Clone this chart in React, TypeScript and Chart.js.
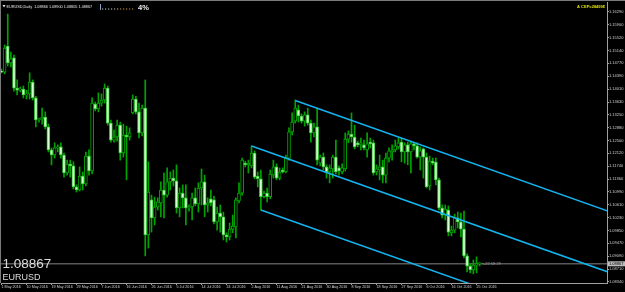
import React, { useEffect, useRef } from 'react';
import { Chart, registerables } from 'chart.js';

Chart.register(...registerables);

// ---- EURUSD Daily, bar 0 = 1 May 2016 (Sunday bars included) ----
const opens = [
  1.1454, 1.1451, 1.1528, 1.1478, 1.1493, 1.1404, 1.1398, 1.1401, 1.1384, 1.1387,
  1.1422, 1.1375, 1.1310, 1.1313, 1.1319, 1.1290, 1.1222, 1.1207, 1.1228, 1.1231,
  1.1207, 1.1154, 1.1180, 1.1175, 1.1113, 1.1104, 1.1145, 1.1122, 1.1204, 1.1160,
  1.1357, 1.1343, 1.1360, 1.1369, 1.1404, 1.1301, 1.1251, 1.1260, 1.1295, 1.1213,
  1.1266, 1.1260, 1.1331, 1.1372, 1.1334, 1.1272, 1.1345, 1.0972, 1.1075, 1.1022,
  1.1054, 1.1066, 1.1104, 1.1089, 1.1128, 1.1139, 1.1131, 1.1051, 1.1095, 1.1081,
  1.1051, 1.1054, 1.1081, 1.1063, 1.1110, 1.1128, 1.1060, 1.1078, 1.1075, 1.1010,
  1.1036, 1.1025, 1.0972, 1.0966, 1.0989, 1.0995, 1.1072, 1.1095, 1.1183, 1.1178,
  1.1175, 1.1213, 1.1145, 1.1137, 1.1084, 1.1095, 1.1084, 1.1148, 1.1172, 1.1139,
  1.1163, 1.1157, 1.1198, 1.1275, 1.1307, 1.1340, 1.1322, 1.1307, 1.1325, 1.1301,
  1.1272, 1.1290, 1.1183, 1.1201, 1.1172, 1.1157, 1.1166, 1.1201, 1.1169, 1.1157,
  1.1166, 1.1254, 1.1269, 1.1260, 1.1243, 1.1237, 1.1237, 1.1222, 1.1245, 1.1243,
  1.1157, 1.1163, 1.1172, 1.1148, 1.1198, 1.1216, 1.1222, 1.1231, 1.1245, 1.1216,
  1.1237, 1.1216, 1.1240, 1.1234, 1.1201, 1.1225, 1.1201, 1.1116, 1.1189, 1.1186,
  1.1134, 1.1051, 1.1030, 1.1045, 1.0978, 1.0986, 1.1022, 1.1010, 1.0989, 1.0910,
  1.0880, 1.0869, 1.0883, 1.08866,
];
const highs = [
  1.1460, 1.1531, 1.1622, 1.1510, 1.1501, 1.1428, 1.1407, 1.1410, 1.1398, 1.1449,
  1.1428, 1.1380, 1.1316, 1.1345, 1.1334, 1.1298, 1.1228, 1.1243, 1.1237, 1.1243,
  1.1213, 1.1192, 1.1192, 1.1187, 1.1119, 1.1172, 1.1157, 1.1216, 1.1222, 1.1375,
  1.1363, 1.1390, 1.1387, 1.1416, 1.1410, 1.1310, 1.1281, 1.1310, 1.1304, 1.1298,
  1.1292, 1.1287, 1.1384, 1.1380, 1.1360, 1.1354, 1.1428, 1.1187, 1.1089, 1.1083,
  1.1081, 1.1128, 1.1154, 1.1169, 1.1157, 1.1163, 1.1178, 1.1110, 1.1119, 1.1119,
  1.1060, 1.1095, 1.1110, 1.1125, 1.1166, 1.1148, 1.1081, 1.1104, 1.1086, 1.1054,
  1.1060, 1.1039, 1.0978, 1.1007, 1.1030, 1.1081, 1.1125, 1.1198, 1.1189, 1.1192,
  1.1234, 1.1219, 1.1157, 1.1163, 1.1101, 1.1110, 1.1163, 1.1192, 1.1181, 1.1169,
  1.1169, 1.1207, 1.1287, 1.1331, 1.1369, 1.1354, 1.1328, 1.1334, 1.1345, 1.1310,
  1.1301, 1.1345, 1.1207, 1.1213, 1.1178, 1.1178, 1.1207, 1.1251, 1.1175, 1.1181,
  1.1272, 1.1278, 1.1331, 1.1295, 1.1248, 1.1257, 1.1251, 1.1272, 1.1257, 1.1251,
  1.1178, 1.1207, 1.1192, 1.1213, 1.1228, 1.1237, 1.1251, 1.1257, 1.1257, 1.1243,
  1.1245, 1.1248, 1.1245, 1.1243, 1.1231, 1.1228, 1.1213, 1.1204, 1.1198, 1.1198,
  1.1139, 1.1060, 1.1060, 1.1057, 1.0998, 1.1033, 1.1039, 1.1036, 1.1042, 1.0916,
  1.0886, 1.0898, 1.0907, 1.08900,
];
const lows = [
  1.1449, 1.1446, 1.1469, 1.1466, 1.1395, 1.1384, 1.1393, 1.1375, 1.1372, 1.1372,
  1.1369, 1.1290, 1.1304, 1.1298, 1.1284, 1.1216, 1.1178, 1.1198, 1.1216, 1.1198,
  1.1142, 1.1148, 1.1142, 1.1107, 1.1098, 1.1101, 1.1104, 1.1116, 1.1148, 1.1151,
  1.1337, 1.1334, 1.1351, 1.1360, 1.1295, 1.1245, 1.1245, 1.1248, 1.1192, 1.1201,
  1.1134, 1.1251, 1.1328, 1.1328, 1.1257, 1.1263, 1.0910, 1.0933, 1.0980, 1.1001,
  1.1045, 1.1025, 1.1022, 1.1083, 1.1104, 1.1116, 1.1036, 1.1025, 1.1051, 1.1001,
  1.1042, 1.1016, 1.1057, 1.1039, 1.1060, 1.1025, 1.1039, 1.1057, 1.1004, 1.0986,
  1.0980, 1.0957, 1.0951, 1.0957, 1.0978, 1.0963, 1.1066, 1.1089, 1.1172, 1.1154,
  1.1169, 1.1137, 1.1113, 1.1045, 1.1081, 1.1069, 1.1078, 1.1139, 1.1134, 1.1134,
  1.1154, 1.1154, 1.1192, 1.1266, 1.1301, 1.1304, 1.1301, 1.1292, 1.1295, 1.1245,
  1.1260, 1.1178, 1.1175, 1.1163, 1.1139, 1.1125, 1.1139, 1.1151, 1.1148, 1.1151,
  1.1160, 1.1243, 1.1245, 1.1225, 1.1231, 1.1222, 1.1222, 1.1201, 1.1228, 1.1148,
  1.1148, 1.1134, 1.1125, 1.1125, 1.1187, 1.1192, 1.1216, 1.1225, 1.1187, 1.1183,
  1.1178, 1.1154, 1.1222, 1.1198, 1.1163, 1.1139, 1.1110, 1.1104, 1.1178, 1.1119,
  1.1045, 1.1022, 1.1016, 1.0969, 1.0969, 1.0978, 1.0992, 1.0966, 1.0904, 1.0863,
  1.0860, 1.0857, 1.0860, 1.08805,
];
const closes = [
  1.1451, 1.1522, 1.1478, 1.1490, 1.1404, 1.1398, 1.1401, 1.1384, 1.1387, 1.1422,
  1.1375, 1.1310, 1.1313, 1.1319, 1.1290, 1.1222, 1.1207, 1.1228, 1.1231, 1.1207,
  1.1154, 1.1180, 1.1175, 1.1113, 1.1104, 1.1145, 1.1122, 1.1204, 1.1160, 1.1360,
  1.1343, 1.1360, 1.1369, 1.1404, 1.1301, 1.1251, 1.1260, 1.1295, 1.1213, 1.1266,
  1.1260, 1.1272, 1.1372, 1.1334, 1.1272, 1.1345, 1.0972, 1.1098, 1.1022, 1.1054,
  1.1069, 1.1104, 1.1089, 1.1128, 1.1139, 1.1131, 1.1051, 1.1095, 1.1081, 1.1051,
  1.1054, 1.1081, 1.1063, 1.1110, 1.1128, 1.1060, 1.1066, 1.1066, 1.1010, 1.1036,
  1.1025, 1.0972, 1.0966, 1.0989, 1.0998, 1.1075, 1.1095, 1.1192, 1.1178, 1.1183,
  1.1213, 1.1142, 1.1137, 1.1084, 1.1095, 1.1084, 1.1151, 1.1172, 1.1139, 1.1157,
  1.1157, 1.1198, 1.1275, 1.1304, 1.1345, 1.1322, 1.1307, 1.1325, 1.1301, 1.1272,
  1.1290, 1.1192, 1.1201, 1.1172, 1.1157, 1.1169, 1.1201, 1.1157, 1.1160, 1.1169,
  1.1254, 1.1269, 1.1260, 1.1231, 1.1237, 1.1243, 1.1228, 1.1240, 1.1240, 1.1154,
  1.1166, 1.1172, 1.1148, 1.1198, 1.1219, 1.1222, 1.1234, 1.1243, 1.1216, 1.1237,
  1.1216, 1.1240, 1.1234, 1.1201, 1.1219, 1.1201, 1.1113, 1.1189, 1.1183, 1.1134,
  1.1051, 1.1030, 1.1048, 1.0980, 1.0986, 1.1022, 1.1010, 1.0989, 1.0910, 1.0880,
  1.0869, 1.0883, 1.08866, 1.08867,
];

const xTickBars = [0, 8, 16, 24, 32, 40, 48, 56, 64, 72, 80, 88, 96, 104, 112, 120, 128, 136, 144, 152];
const xTickLabels = [
  '1 May 2016', '10 May 2016', '19 May 2016', '29 May 2016', '7 Jun 2016', '16 Jun 2016',
  '26 Jun 2016', '5 Jul 2016', '14 Jul 2016', '24 Jul 2016', '2 Aug 2016', '11 Aug 2016',
  '21 Aug 2016', '30 Aug 2016', '8 Sep 2016', '18 Sep 2016', '27 Sep 2016', '6 Oct 2016',
  '16 Oct 2016', '25 Oct 2016',
];
const yTickLabels = [
  '1.16290', '1.15900', '1.15520', '1.15140', '1.14770', '1.14390', '1.14010', '1.13630',
  '1.13250', '1.12880', '1.12500', '1.12120', '1.11740', '1.11360', '1.10990', '1.10610',
  '1.10230', '1.09850', '1.09470', '1.09090', '1.08710', '1.08340',
];

// Channel lines (bar index, price)
const channelUpper = [{ bar: 94, price: 1.13675 }, { bar: 194, price: 1.10423 }];
const channelMiddle = [{ bar: 80, price: 1.12336 }, { bar: 194, price: 1.08629 }];
const channelLower = [{ bar: 83, price: 1.10452 }, { bar: 194, price: 1.06842 }];

const SYMBOL = 'EURUSD';
const PERIOD = 'Daily';
const INFO_TEXT = 'A CEP=28499$';
const TIMER_TEXT = '<-22:58:29';
const PCT_TEXT = '4%';

// view range
const X_MIN = -0.16;
const X_MAX = 193.76;
const Y_MIN = 1.08302;
const Y_MAX = 1.16575;

const FONT = '"Liberation Sans", Arial, sans-serif';
const WICK = '#00a400';
const BULL_FILL = '#000000';
const BULL_EDGE = '#00a800';
const BEAR_FILL = '#d6ffd0';
const BEAR_EDGE = '#3cc83c';
const CHANNEL = '#14b4f0';
const AXIS_LINE = '#a0a0a0';
const AXIS_TEXT = '#d0d0d0';

export default function App() {
  const ref = useRef<HTMLCanvasElement>(null);

  useEffect(() => {
    document.body.style.margin = '0';
    document.body.style.background = '#000';
    const canvas = ref.current;
    if (!canvas) return;
    const last = closes.length - 1;
    const bid = closes[last];
    const isBull = opens.map((o, i) => closes[i] >= o);

    const lineDs = (pts: { bar: number; price: number }[]) => ({
      type: 'line' as const,
      data: pts.map((p) => ({ x: p.bar, y: p.price })),
      borderColor: CHANNEL,
      borderWidth: 1.5,
      pointRadius: 0,
      fill: false,
      tension: 0,
      order: 0,
    });

    const overlay = {
      id: 'mt4overlay',
      beforeDatasetsDraw(chart: any) {
        const { ctx, chartArea, scales } = chart;
        const y = scales.y.getPixelForValue(bid);
        ctx.save();
        ctx.strokeStyle = '#585858';
        ctx.lineWidth = 1.5;
        ctx.beginPath();
        ctx.moveTo(chartArea.left, y);
        ctx.lineTo(chartArea.right, y);
        ctx.stroke();
        ctx.restore();
      },
      afterDraw(chart: any) {
        const { ctx, scales } = chart;
        ctx.save();
        // frame
        ctx.fillStyle = '#7a7a7a';
        ctx.fillRect(0, 0, 625, 1);
        ctx.fillRect(0, 0, 1, 283);
        // header
        ctx.fillStyle = '#e6e6e6';
        ctx.beginPath();
        ctx.moveTo(2.5, 5);
        ctx.lineTo(5.5, 5);
        ctx.lineTo(4, 7.5);
        ctx.closePath();
        ctx.fill();
        ctx.textAlign = 'left';
        ctx.textBaseline = 'alphabetic';
        ctx.font = `3.8px ${FONT}`;
        const hdr = `${SYMBOL},${PERIOD}  ${opens[last].toFixed(5)} ${highs[last].toFixed(5)} ${lows[last].toFixed(5)} ${closes[last].toFixed(5)}`;
        ctx.fillText(hdr, 6.5, 7.8);
        // indicator
        ctx.fillStyle = '#8fa0c8';
        ctx.fillRect(100, 4, 1, 6);
        for (let k = 0; k < 11; k++) {
          ctx.fillStyle = k < 6 ? '#c8c8c8' : '#d89a40';
          ctx.fillRect(102 + k * 3, 8.5, 1.2, 1);
        }
        ctx.fillStyle = '#f0f0f0';
        ctx.font = `bold 7.5px ${FONT}`;
        ctx.fillText(PCT_TEXT, 138, 9.8);
        // top right info
        ctx.fillStyle = '#e0e000';
        ctx.font = `bold 4px ${FONT}`;
        ctx.textAlign = 'right';
        ctx.fillText(INFO_TEXT, 605, 8);
        // big price + symbol
        ctx.textAlign = 'left';
        ctx.fillStyle = '#dcdcdc';
        ctx.font = `13.5px ${FONT}`;
        ctx.fillText(bid.toFixed(5), 2.5, 268.3);
        ctx.font = `9px ${FONT}`;
        ctx.fillText(SYMBOL, 2.5, 279.5);
        // bid label on the axis
        const by = scales.y.getPixelForValue(bid);
        ctx.fillStyle = '#bdbdbd';
        ctx.fillRect(608, by - 2.5, 17, 5);
        ctx.fillStyle = '#000';
        ctx.font = `4px ${FONT}`;
        ctx.textBaseline = 'middle';
        ctx.fillText(bid.toFixed(5), 609, by);
        // timer
        ctx.fillStyle = '#9a9a9a';
        ctx.fillText(TIMER_TEXT, scales.x.getPixelForValue(last) + 2, by);
        ctx.restore();
      },
    };

    const chart = new Chart(canvas, {
      type: 'bar',
      data: {
        datasets: [
          {
            type: 'bar',
            data: opens.map((_, i) => ({ x: i, y: [lows[i], highs[i]] })) as any,
            backgroundColor: WICK,
            borderWidth: 0,
            grouped: false,
            barPercentage: 1,
            categoryPercentage: 1,
            maxBarThickness: 1,
            order: 2,
          },
          {
            type: 'bar',
            data: opens.map((o, i) => ({ x: i, y: [o, closes[i]] })) as any,
            backgroundColor: isBull.map((b) => (b ? BULL_FILL : BEAR_FILL)),
            borderColor: isBull.map((b) => (b ? BULL_EDGE : BEAR_EDGE)),
            borderWidth: 1,
            borderSkipped: false,
            grouped: false,
            barPercentage: 1,
            categoryPercentage: 1,
            maxBarThickness: 3,
            minBarLength: 1,
            order: 1,
          },
          lineDs(channelUpper) as any,
          lineDs(channelMiddle) as any,
          lineDs(channelLower) as any,
        ],
      },
      options: {
        responsive: false,
        animation: false,
        devicePixelRatio: 1,
        layout: { padding: { left: 1, top: 2, right: 0, bottom: 0 } },
        plugins: {
          legend: { display: false },
          tooltip: { enabled: false },
          title: { display: false },
        },
        scales: {
          x: {
            type: 'linear',
            position: 'bottom',
            min: X_MIN,
            max: X_MAX,
            offset: false,
            afterBuildTicks: (s: any) => {
              s.ticks = xTickBars.map((v) => ({ value: v }));
            },
            afterFit: (s: any) => {
              s.height = 9;
            },
            ticks: {
              autoSkip: false,
              maxRotation: 0,
              minRotation: 0,
              align: 'start',
              padding: 0,
              color: AXIS_TEXT,
              font: { family: FONT, size: 3.7, lineHeight: 1 },
              callback: (_v: any, i: number) => xTickLabels[i],
            },
            grid: { display: true, drawOnChartArea: false, drawTicks: true, tickLength: 2, color: AXIS_LINE, offset: false },
            border: { display: true, color: AXIS_LINE, width: 1 },
          },
          y: {
            type: 'linear',
            position: 'right',
            min: Y_MIN,
            max: Y_MAX,
            afterBuildTicks: (s: any) => {
              s.ticks = yTickLabels.map((t) => ({ value: Number(t) }));
            },
            afterFit: (s: any) => {
              s.width = 18;
            },
            ticks: {
              autoSkip: false,
              padding: 0,
              color: AXIS_TEXT,
              font: { family: FONT, size: 4, lineHeight: 1 },
              callback: (_v: any, i: number) => yTickLabels[i],
            },
            grid: { display: true, drawOnChartArea: false, drawTicks: true, tickLength: 2, color: AXIS_LINE },
            border: { display: true, color: AXIS_LINE, width: 1 },
          },
        },
      } as any,
      plugins: [overlay],
    });

    return () => chart.destroy();
  }, []);

  return (
    <div style={{ position: 'fixed', left: 0, top: 0, width: 625, height: 292, background: '#000' }}>
      <canvas ref={ref} width={625} height={292} style={{ display: 'block', width: 625, height: 292 }} />
    </div>
  );
}
